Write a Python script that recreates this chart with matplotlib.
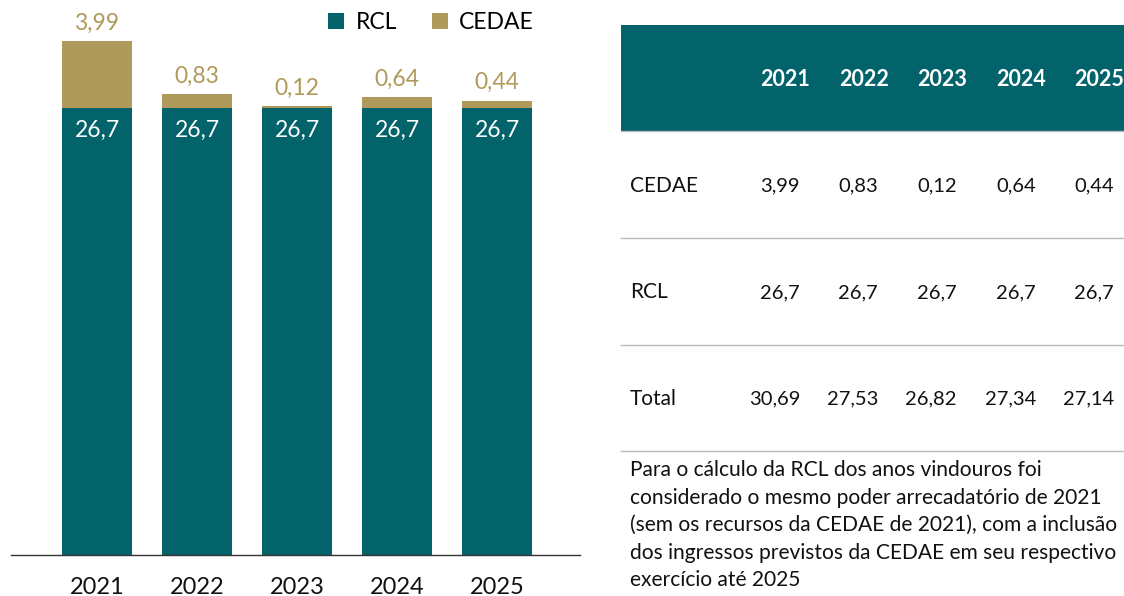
import matplotlib.pyplot as plt
from matplotlib.patches import Rectangle

plt.rcParams['font.family'] = ['Lato', 'DejaVu Sans']

# dados (bilhões)
anos = ['2021', '2022', '2023', '2024', '2025']
rcl = [26.7, 26.7, 26.7, 26.7, 26.7]
cedae = [3.99, 0.83, 0.12, 0.64, 0.44]
total = [30.69, 27.53, 26.82, 27.34, 27.14]
linhas_tabela = ['CEDAE', 'RCL', 'Total']
nota = ('Para o cálculo da RCL dos anos vindouros foi\n'
        'considerado o mesmo poder arrecadatório de 2021\n'
        '(sem os recursos da CEDAE de 2021), com a inclusão\n'
        'dos ingressos previstos da CEDAE em seu respectivo\n'
        'exercício até 2025')

TEAL = '#02636a'
GOLD = '#b09a5b'

W, H = 1124, 596
fig = plt.figure(figsize=(W / 100, H / 100), dpi=100)


def fx(px):
    return px / W


def fy(py):
    return 1 - py / H


def fmt(v, casas):
    return f'{v:.{casas}f}'.replace('.', ',')


# gráfico de barras
ax = fig.add_axes([fx(11), fy(555), fx(580) - fx(11), fy(0) - fy(555)])
x = list(range(len(anos)))
ax.bar(x, rcl, width=0.7, color=TEAL, label='RCL')
ax.bar(x, cedae, width=0.7, bottom=rcl, color=GOLD, label='CEDAE')
ax.set_xlim(-0.86, 4.83)
ax.set_ylim(0, 33.15)
for i in x:
    ax.text(i, rcl[i] - 0.7, fmt(rcl[i], 1), ha='center', va='top',
            color='white', fontsize=16.5)
    ax.text(i, rcl[i] + cedae[i] + 0.45, fmt(cedae[i], 2), ha='center',
            va='bottom', color=GOLD, fontsize=16.5)
ax.set_xticks(x)
ax.set_xticklabels(anos, fontsize=17, color='#111111')
ax.tick_params(axis='x', length=0, pad=16)
ax.set_yticks([])
for s in ['top', 'right', 'left']:
    ax.spines[s].set_visible(False)
ax.spines['bottom'].set_color('#333333')
ax.spines['bottom'].set_linewidth(1)
ax.legend(loc='upper right', bbox_to_anchor=(0.955, 1.015), ncol=2, frameon=False,
          fontsize=16.5, handlelength=0.7, handleheight=0.7, handletextpad=0.5,
          columnspacing=1.5)

# tabela
tb = fig.add_axes([0, 0, 1, 1])
tb.set_xlim(0, W)
tb.set_ylim(H, 0)
tb.axis('off')
tb.add_patch(Rectangle((621, 25), W - 621, 106, color=TEAL, lw=0))
col_hdr = [810, 889, 967, 1046, 1124]
col_val = [800, 878, 957, 1036, 1114]
for j, a in enumerate(anos):
    tb.text(col_hdr[j], 79, a, ha='right', va='center', color='white',
            fontsize=15.5, fontweight='bold')
for y in [131, 238, 345, 451]:
    tb.plot([621, W], [y, y], color='#bbbbbb', lw=1)
valores = [[fmt(v, 2) for v in cedae], [fmt(v, 1) for v in rcl],
           [fmt(v, 2) for v in total]]
for r, nome in enumerate(linhas_tabela):
    yc = 186 + r * 106.5
    tb.text(630, yc, nome, ha='left', va='center', fontsize=15, color='#111111')
    for j, v in enumerate(valores[r]):
        tb.text(col_val[j], yc, v, ha='right', va='center', fontsize=14.5,
                color='#111111')
tb.text(630, 460, nota, ha='left', va='top', fontsize=15.1, color='#111111',
        linespacing=1.47)

fig.savefig('out.png', dpi=100)
